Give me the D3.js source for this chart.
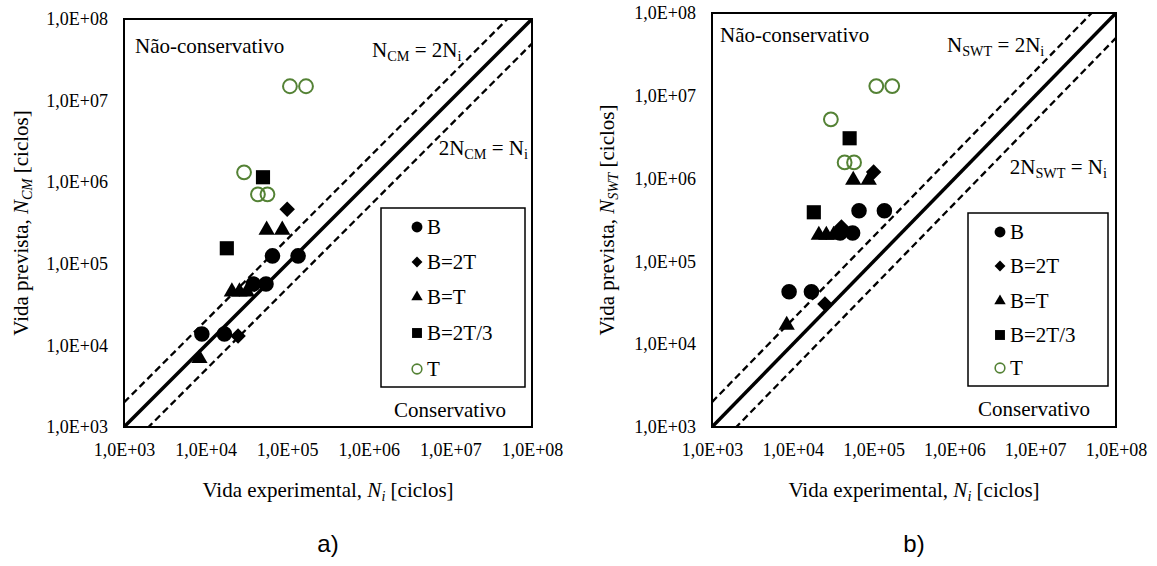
<!DOCTYPE html>
<html>
<head>
<meta charset="utf-8">
<script src="https://cdn.jsdelivr.net/npm/d3@7"></script>
<style>
body { margin: 0; background: #fff; }
</style>
</head>
<body>
<div id="chart-area"></div>
<script>
// axis ticks (same on both axes and both panels)
const decades = [1e3, 1e4, 1e5, 1e6, 1e7, 1e8];
const tickLabels = ["1,0E+03", "1,0E+04", "1,0E+05", "1,0E+06", "1,0E+07", "1,0E+08"];
const seriesNames = ["B", "B=2T", "B=T", "B=2T/3", "T"];

// experimental life Ni, per series
const niB    = [9.0e3, 1.7e4, 3.85e4, 5.5e4, 6.6e4, 1.36e5];
const niB2T  = [2.5e4, 4.0e4, 1.0e5];
const niBT   = [8.4e3, 2.1e4, 2.6e4, 3.2e4, 5.6e4, 8.7e4];
const niB2T3 = [1.82e4, 5.05e4];
const niT    = [2.96e4, 4.38e4, 5.73e4, 1.08e5, 1.7e5];

// predicted life N_CM (panel a)
const ncmB    = [1.38e4, 1.38e4, 5.65e4, 5.65e4, 1.25e5, 1.25e5];
const ncmB2T  = [1.3e4, 5.6e4, 4.65e5];
const ncmBT   = [6.95e3, 4.55e4, 4.55e4, 4.55e4, 2.6e5, 2.6e5];
const ncmB2T3 = [1.55e5, 1.15e6];
const ncmT    = [1.32e6, 7.1e5, 7.1e5, 1.5e7, 1.5e7];

// predicted life N_SWT (panel b)
const nswtB    = [4.3e4, 4.3e4, 2.2e5, 2.2e5, 4.1e5, 4.1e5];
const nswtB2T  = [3.06e4, 2.6e5, 1.2e6];
const nswtBT   = [1.7e4, 2.08e5, 2.08e5, 2.08e5, 9.6e5, 9.6e5];
const nswtB2T3 = [3.92e5, 3.07e6];
const nswtT    = [5.2e6, 1.57e6, 1.57e6, 1.31e7, 1.31e7];

// scatter bands: N = Ni, N = 2Ni, 2N = Ni
const bandFactors = [1, 2, 0.5];

const niAll = [niB, niB2T, niBT, niB2T3, niT];
const green = "#548235";
const serif = "Liberation Serif";

let svg = d3.select("#chart-area").append("svg")
	.attr("width", 1157)
	.attr("height", 566)
	.attr("font-family", serif)

// marker shape for each series
function marker(i, big) {
	var s = big ? 1 : 0.7;
	if (i == 0 || i == 4) return d3.symbol().type(d3.symbolCircle).size((i == 4 ? 150 : 190) * s * s)();
	if (i == 1) return d3.symbol().type(d3.symbolSquare).size(120 * s * s)();
	if (i == 2) return d3.symbol().type(d3.symbolTriangle).size(115 * s * s)();
	return d3.symbol().type(d3.symbolSquare).size(200 * s * s)();
}
function markerRot(i) { return i == 1 ? " rotate(45)" : ""; }
function markerFill(i) { return i == 4 ? "none" : "black"; }
function markerStroke(i) { return i == 4 ? green : "none"; }

// text with subscript parts: [[text, sub?, italic?], ...]
function richText(g, x, y, parts, size, anchor) {
	var t = g.append("text").attr("x", x).attr("y", y)
		.attr("font-family", serif)
		.attr("font-size", size).attr("text-anchor", anchor || "start");
	var down = false;
	parts.forEach(function(p) {
		var ts = t.append("tspan").text(p[0]);
		if (p[2]) ts.attr("font-style", "italic");
		if (p[1]) { ts.attr("font-size", size * 0.68).attr("dy", down ? 0 : 4); down = true; }
		else if (down) { ts.attr("dy", -4); down = false; }
	});
	return t;
}

const panels = [
	{ id: "a", left: 124, top: 19, w: 408, h: 408, pred: [ncmB, ncmB2T, ncmBT, ncmB2T3, ncmT], sub: "CM",
	  ncX: 135, ncY: 53, upX: 372, upY: 57, loX: 528, loY: 155,
	  leg: [381, 208, 144, 179], legMx: 417, legRows: [227, 262, 297, 333, 369],
	  consX: 450, consY: 417, yTitleX: 28, xTitleY: 497, capY: 552 },
	{ id: "b", left: 712, top: 13, w: 404, h: 414, pred: [nswtB, nswtB2T, nswtBT, nswtB2T3, nswtT], sub: "SWT",
	  ncX: 720, ncY: 42, upX: 947, upY: 52, loX: 1107, loY: 174,
	  leg: [968, 213, 140, 173], legMx: 1000, legRows: [232, 266, 301, 335, 368],
	  consX: 1034, consY: 416, yTitleX: 614, xTitleY: 497, capY: 552 }
];

panels.forEach(function(p) {
	var x = d3.scaleLog().domain([1e3, 1e8]).range([0, p.w]);
	var y = d3.scaleLog().domain([1e3, 1e8]).range([p.h, 0]);
	var g = svg.append("g").attr("transform", "translate(" + p.left + "," + p.top + ")");

	g.append("clipPath").attr("id", "clip-" + p.id)
		.append("rect").attr("width", p.w).attr("height", p.h);

	// axes
	var xAxis = d3.axisBottom(x).tickValues(decades).tickSize(0).tickPadding(16)
		.tickFormat(function(d, i) { return tickLabels[i]; });
	var yAxis = d3.axisLeft(y).tickValues(decades).tickSize(0).tickPadding(16)
		.tickFormat(function(d, i) { return tickLabels[i]; });
	g.append("g").attr("transform", "translate(0," + p.h + ")").call(xAxis)
		.call(function(a) { a.select(".domain").remove(); });
	g.append("g").call(yAxis)
		.call(function(a) { a.select(".domain").remove(); });
	g.selectAll(".tick text").attr("font-size", 18).attr("fill", "black")
		.attr("font-family", serif);

	// reference lines
	var line = d3.line().x(function(d) { return x(d[0]); }).y(function(d) { return y(d[1]); });
	bandFactors.forEach(function(f, k) {
		g.append("path")
			.attr("clip-path", "url(#clip-" + p.id + ")")
			.attr("d", line([[1e3, 1e3 * f], [1e8, 1e8 * f]]))
			.attr("fill", "none").attr("stroke", "black")
			.attr("stroke-width", k == 0 ? 3.5 : 2.3)
			.attr("stroke-dasharray", k == 0 ? null : "7,4");
	});

	// plot frame
	g.append("rect").attr("width", p.w).attr("height", p.h)
		.attr("fill", "none").attr("stroke", "black").attr("stroke-width", 2);

	// points
	niAll.forEach(function(ni, i) {
		var pts = ni.map(function(v, j) { return [v, p.pred[i][j]]; });
		g.selectAll(".s" + i).data(pts).enter().append("path")
			.attr("class", "s" + i)
			.attr("transform", function(d) { return "translate(" + x(d[0]) + "," + y(d[1]) + ")" + markerRot(i); })
			.attr("d", marker(i, true))
			.attr("fill", markerFill(i))
			.attr("stroke", markerStroke(i))
			.attr("stroke-width", 2);
	});

	// legend
	svg.append("rect").attr("x", p.leg[0]).attr("y", p.leg[1]).attr("width", p.leg[2]).attr("height", p.leg[3])
		.attr("fill", "white").attr("stroke", "black").attr("stroke-width", 1.5);
	seriesNames.forEach(function(name, i) {
		svg.append("path")
			.attr("transform", "translate(" + p.legMx + "," + p.legRows[i] + ")" + markerRot(i))
			.attr("d", marker(i, false))
			.attr("fill", markerFill(i)).attr("stroke", markerStroke(i)).attr("stroke-width", 1.6);
		svg.append("text").attr("x", p.legMx + 10).attr("y", p.legRows[i] + 7)
			.attr("font-family", serif).attr("font-size", 21).text(name);
	});

	// annotations
	svg.append("text").attr("x", p.ncX).attr("y", p.ncY)
		.attr("font-family", serif).attr("font-size", 21).text("Não-conservativo");
	svg.append("text").attr("x", p.consX).attr("y", p.consY)
		.attr("font-family", serif).attr("font-size", 21)
		.attr("text-anchor", "middle").text("Conservativo");
	richText(svg, p.upX, p.upY, [["N"], [p.sub, true], [" = 2N"], ["i", true]], 21);
	richText(svg, p.loX, p.loY, [["2N"], [p.sub, true], [" = N"], ["i", true]], 21, "end");

	// axis titles
	var cx = p.left + p.w / 2, cy = p.top + p.h / 2;
	richText(svg, cx, p.xTitleY, [["Vida experimental, "], ["N", false, true], ["i", true, true], [" [ciclos]"]], 21, "middle");
	var yt = svg.append("g").attr("transform", "translate(" + p.yTitleX + "," + cy + ") rotate(-90)");
	richText(yt, 0, 0, [["Vida prevista, "], ["N", false, true], [p.sub, true, true], [" [ciclos]"]], 21, "middle");

	// panel caption
	svg.append("text").attr("x", cx).attr("y", p.capY).attr("text-anchor", "middle")
		.attr("font-family", "Liberation Sans").attr("font-size", 24).text(p.id + ")");
});
</script>
</body>
</html>
